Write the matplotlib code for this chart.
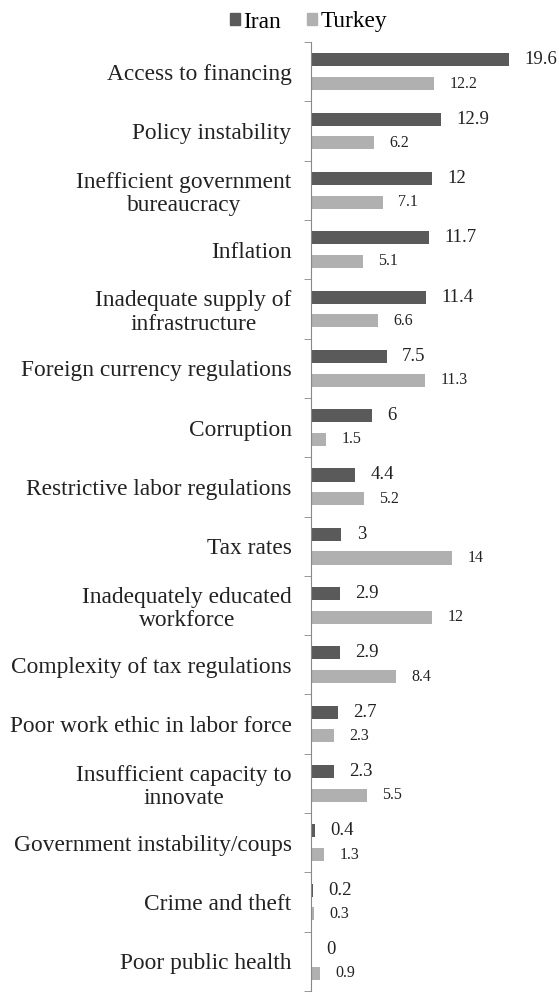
import numpy as np
import matplotlib
matplotlib.use('Agg')
import matplotlib.pyplot as plt
from matplotlib.patches import Patch

# obstacles to doing business, percent of responses
categories = ['Access to financing', 'Policy instability',
              'Inefficient government\nbureaucracy', 'Inflation',
              'Inadequate supply of\ninfrastructure', 'Foreign currency regulations',
              'Corruption', 'Restrictive labor regulations', 'Tax rates',
              'Inadequately educated\nworkforce', 'Complexity of tax regulations',
              'Poor work ethic in labor force', 'Insufficient capacity to\ninnovate',
              'Government instability/coups', 'Crime and theft', 'Poor public health']
iran = [19.6, 12.9, 12, 11.7, 11.4, 7.5, 6, 4.4, 3, 2.9, 2.9, 2.7, 2.3, 0.4, 0.2, 0]
turkey = [12.2, 6.2, 7.1, 5.1, 6.6, 11.3, 1.5, 5.2, 14, 12, 8.4, 2.3, 5.5, 1.3, 0.3, 0.9]

plt.rcParams['font.family'] = ['Liberation Serif', 'DejaVu Serif']

iranColor = '#5a5a5a'
turkeyColor = '#b0b0b0'

fig = plt.figure(figsize=(5.59, 9.97), dpi=100)
ax = fig.add_axes([311/559, 1-991/997, 1-311/559, (991-42)/997])

pos = np.arange(len(categories))
barH = 0.22
ax.barh(pos - 0.2, iran, height=barH, color=iranColor)
ax.barh(pos + 0.2, turkey, height=barH, color=turkeyColor)

# value labels
for i in range(len(categories)):
    ax.annotate(f'{iran[i]:g}', (iran[i], pos[i] - 0.2), xytext=(11, 0),
                textcoords='offset points', va='center', ha='left',
                fontsize=13.5, color='#222222')
    ax.annotate(f'{turkey[i]:g}', (turkey[i], pos[i] + 0.2), xytext=(11, 0),
                textcoords='offset points', va='center', ha='left',
                fontsize=11.5, color='#222222')

ax.set_xlim(0, (559-311)/10.1)
ax.set_ylim(len(categories) - 0.5, -0.5)

ax.set_yticks(pos)
ax.set_yticklabels(categories, fontsize=16.8, color='#222222')
for lbl in ax.get_yticklabels():
    lbl.set_multialignment('center')
    lbl.set_linespacing(1.15)
ax.tick_params(axis='y', which='major', length=0, pad=14)
ax.set_yticks(np.arange(-0.5, len(categories), 1.0), minor=True)
ax.tick_params(axis='y', which='minor', length=5, color='#888888', direction='out')

ax.set_xticks([])
for s in ['top', 'right', 'bottom']:
    ax.spines[s].set_visible(False)
ax.spines['left'].set_color('#888888')

handles = [Patch(color=iranColor, label='Iran'), Patch(color=turkeyColor, label='Turkey')]
fig.legend(handles=handles, loc='center', bbox_to_anchor=(0.552, 1-22/997), ncol=2,
           frameon=False, fontsize=16.8, handlelength=0.45, handleheight=0.45,
           handletextpad=0.15, columnspacing=1.1)

fig.savefig('out.png', dpi=100)
